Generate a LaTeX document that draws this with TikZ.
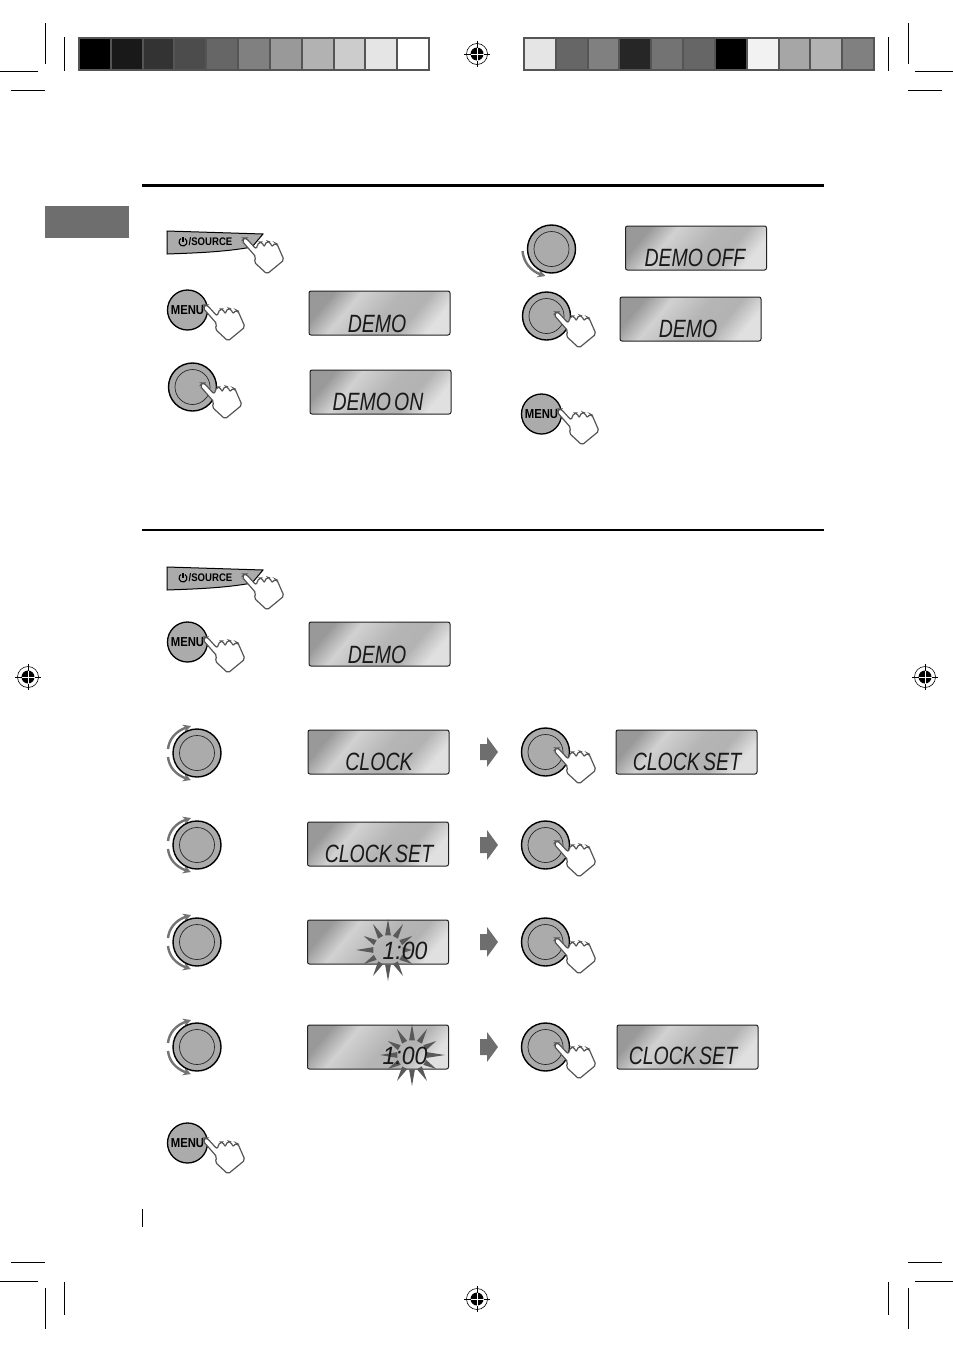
\documentclass[tikz,border=0pt]{standalone}
\usepackage{xcolor}
\usepackage{fontspec}
\setsansfont{Liberation Sans}
\newfontfamily\lcdfont{Liberation Sans}[FakeStretch=0.78,WordSpace=0.6]
\newfontfamily\lcdclock{Liberation Sans}[FakeStretch=0.92]
\newfontfamily\keyfont{Liberation Sans}[FakeStretch=0.87]
\definecolor{cDial}{HTML}{ABABAB}
\definecolor{cFrame}{HTML}{555555}
\definecolor{cLine}{HTML}{222222}
\definecolor{cHand}{HTML}{555555}
\definecolor{cBlock}{HTML}{6E6E6E}
\usepackage{tikz}
\usetikzlibrary{positioning,arrows.meta,calc}
\pgfdeclarehorizontalshading{lcdshade}{100bp}{
  color(0bp)=(black!40); color(25bp)=(black!40); color(36bp)=(black!18);
  color(52bp)=(black!29); color(64bp)=(black!30); color(75bp)=(black!12);
  color(100bp)=(black!12)}
\tikzset{
  node-lcd/.style={draw=cLine,line width=1pt,rounded corners=2pt,
    shading=lcdshade,shading angle=-40,minimum width=141,minimum height=44,
    inner sep=0pt},
  lcd-text/.style={anchor=base,inner sep=0pt,text=black!90,
    font=\lcdfont\itshape\fontsize{25}{26}\selectfont},
  lcd-digits/.style={lcd-text,font=\lcdclock\itshape\fontsize{25}{26}\selectfont},
  node-menu/.style={draw=black,line width=1.3pt,circle,fill=cDial,minimum size=40,
    inner sep=0pt,font=\keyfont\bfseries\fontsize{13}{14}\selectfont},
  hand-line/.style={draw=cHand,line width=1.2pt,fill=white,rounded corners=2pt},
  turn-arrow/.style={draw=black!55,line width=2.4pt,-{Stealth[length=8pt,width=8pt]}},
  crop-line/.style={draw=black,line width=.8pt},
  pics/pic-hand/.style={code={
    \draw[hand-line] (-2,3) -- (0,0) -- (2,0) -- (12,11) -- (15,4) -- (18,4)
      -- (20,9) -- (23,3) -- (26,4) -- (28,9) -- (31,5) -- (33,6)
      -- (40,22) -- (23,36) -- (10,24) -- (12,19) -- cycle;
  }},
  pics/pic-knob/.style={code={
    \draw[draw=black,line width=1.4pt,fill=cDial] (0,0) circle[radius=24];
    \draw[draw=black!85,line width=.7pt] (0,0) circle[radius=17.5];
  }},
  pics/pic-turn/.style={code={
    \draw[turn-arrow] (-29,-4) .. controls (-28,-14) and (-21,-22) .. (-6,-27);
    \draw[turn-arrow] (-29,4) .. controls (-28,14) and (-21,22) .. (-6,27);
  }},
  pics/pic-turn-low/.style={code={
    \draw[turn-arrow] (-29,2) .. controls (-28,13) and (-21,22) .. (-6,27);
  }},
  pics/pic-block/.style={code={
    \fill[cBlock] (0,-8) -- (7,-8) -- (7,-15) -- (18,0) -- (7,15) -- (7,8) -- (0,8) -- cycle;
  }},
  pics/pic-reg/.style={code={
    \draw[draw=black,line width=.6pt] (0,0) circle[radius=10.5];
    \fill[black] (0,0) circle[radius=6.5];
    \draw[draw=white,line width=.8pt] (-6.5,0) -- (6.5,0) (0,-6.5) -- (0,6.5);
    \draw[draw=black,line width=.8pt] (-13,0) -- (-6.5,0) (6.5,0) -- (13,0)
      (0,-13) -- (0,-6.5) (0,6.5) -- (0,13);
  }},
  pics/pic-source/.style={code={
    \draw[draw=black,line width=1pt,fill=cDial] (0,0) -- (96,3) -- (85,16)
      .. controls (58,21) and (28,22) .. (0,23) -- cycle;
    \draw[draw=black,line width=1.1pt] (16,11) ++(-60:4) arc[start angle=-60,end angle=240,radius=4];
    \draw[draw=black,line width=1.1pt] (16,6) -- (16,11);
    \node[inner sep=0pt,anchor=west,font=\keyfont\bfseries\fontsize{11}{12}\selectfont] (-txt) at (21.5,11) {/SOURCE};
  }},
  pics/pic-burst/.style={code={
    \foreach \a/\r in {0/#1,30/28,60/30,90/31,120/30,150/28,180/32,210/28,240/30,270/31,300/30,330/28}
      \fill[black!65] (\a-11:15) -- (\a:\r) -- (\a+11:15) -- cycle;
  }},
}
\begin{document}
\begin{tikzpicture}[x=1pt,y=-1pt]
  \useasboundingbox (0,0) rectangle (953,1352);
  % crop marks
  \draw[crop-line] (0,71) -- (38,71) (11,90) -- (45,90) (45,23) -- (45,64) (64,37) -- (64,71);
  \draw[crop-line] (915,71) -- (953,71) (908,90) -- (942,90) (908,23) -- (908,64) (888,37) -- (888,71);
  \draw[crop-line] (0,1281) -- (38,1281) (11,1262) -- (45,1262) (45,1288) -- (45,1329) (64,1282) -- (64,1315);
  \draw[crop-line] (915,1281) -- (953,1281) (908,1262) -- (942,1262) (908,1288) -- (908,1329) (888,1282) -- (888,1315);
  \pic at (477,54) {pic-reg};
  \pic at (477,1299) {pic-reg};
  \pic at (28,677) {pic-reg};
  \pic at (925,677) {pic-reg};
  % grey bars
  \fill[cFrame] (78,37) rectangle (430,71);
  \foreach \g [count=\i from 0] in {100,90,80,70,60,50,40,30,20,10,0}
    \fill[black!\g] (80+31.82*\i,39) rectangle (109.82+31.82*\i,69);
  \fill[cFrame] (523,37) rectangle (875,71);
  \foreach \g [count=\i from 0] in {10,60,50,85,55,60,100,5,35,30,50}
    \fill[black!\g] (525+31.82*\i,39) rectangle (554.82+31.82*\i,69);
  % rules and tab
  \draw[draw=black,line width=3pt] (142,185) -- (824,185);
  \draw[draw=black,line width=2pt] (142,530) -- (824,530);
  \fill[cBlock] (45,206) rectangle (129,238);
  \draw[draw=black,line width=.8pt] (142,1209) -- (142,1227);

  % upper block, left
  \pic at (167,231) {pic-source};
  \pic at (244,238) {pic-hand};
  \node[node-menu] (menuA) at (187.5,310) {MENU};
  \pic at (205,305) {pic-hand};
  \node[node-lcd] (lcdA) at (379.5,313) {};
  \node[lcd-text] (txtA) at (377,332) {DEMO};
  \pic at (192.5,387) {pic-knob};
  \pic at (202,383) {pic-hand};
  \node[node-lcd] (lcdB) at (380.5,392) {};
  \node[lcd-text] (txtB) at (378,410) {DEMO ON};
  % upper block, right
  \pic at (551.5,249) {pic-turn-low};
  \pic at (551.5,249) {pic-knob};
  \node[node-lcd] (lcdC) at (696,248) {};
  \node[lcd-text] (txtC) at (695,266) {DEMO OFF};
  \pic at (546.5,316) {pic-knob};
  \pic at (556,312) {pic-hand};
  \node[node-lcd] (lcdD) at (690.5,319) {};
  \node[lcd-text] (txtD) at (688,337) {DEMO};
  \node[node-menu] (menuB) at (541.5,414) {MENU};
  \pic at (559,409) {pic-hand};

  % lower block, left
  \pic at (167,567) {pic-source};
  \pic at (244,574) {pic-hand};
  \node[node-menu] (menuC) at (187.5,642) {MENU};
  \pic at (205,637) {pic-hand};
  \node[node-lcd] (lcdE) at (379.5,644) {};
  \node[lcd-text] (txtE) at (377,663) {DEMO};
  \foreach \y in {753,845,942,1047} {
    \pic at (197,\y) {pic-turn};
    \pic at (197,\y) {pic-knob};
  }
  \node[node-lcd] (lcdF) at (378.5,752) {};
  \node[lcd-text] (txtF) at (379,770) {CLOCK};
  \node[node-lcd] (lcdG) at (378,844) {};
  \node[lcd-text] (txtG) at (379,862) {CLOCK SET};
  \node[node-lcd] (lcdH) at (378,942) {};
  \pic at (388,950) {pic-burst=24};
  \node[lcd-digits] (txtH) at (405,959) {1:00};
  \node[node-lcd] (lcdI) at (378,1047) {};
  \pic at (412,1055) {pic-burst=33};
  \node[lcd-digits] (txtI) at (405,1064) {1:00};
  \node[node-menu] (menuD) at (187.5,1143) {MENU};
  \pic at (205,1138) {pic-hand};
  % lower block, right
  \foreach \y in {752,845,942,1047} {
    \pic at (480,\y) {pic-block};
    \pic at (545.5,\y) {pic-knob};
    \pic at (556,\y-4) {pic-hand};
  }
  \node[node-lcd] (lcdJ) at (686.5,752) {};
  \node[lcd-text] (txtJ) at (687,770) {CLOCK SET};
  \node[node-lcd] (lcdK) at (687.5,1047) {};
  \node[lcd-text] (txtK) at (683,1064) {CLOCK SET};
\end{tikzpicture}
\end{document}
